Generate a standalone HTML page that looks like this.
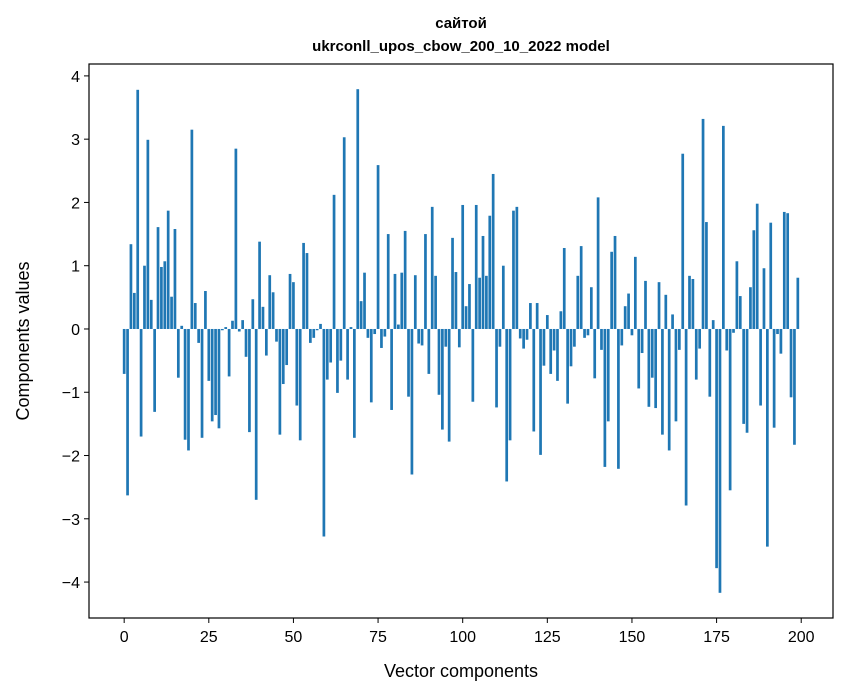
<!DOCTYPE html>
<html><head><meta charset="utf-8"><style>
body{margin:0;background:#fff;}
svg{display:block;font-family:"Liberation Sans","DejaVu Sans",sans-serif;}
</style></head>
<body>
<svg id="chart" width="847" height="696">
<text x="461" y="28" text-anchor="middle" font-size="15" font-weight="bold">сайтой</text>
<text x="461" y="51" text-anchor="middle" font-size="15" font-weight="bold">ukrconll_upos_cbow_200_10_2022 model</text>
<text x="461" y="677" text-anchor="middle" font-size="18">Vector components</text>
<text x="29" y="341" text-anchor="middle" font-size="18" transform="rotate(-90 29 341)">Components values</text>
<g id="bars"></g>
<g id="xticks"></g>
<g id="yticks"></g>
<rect x="89" y="64" width="744" height="554" fill="none" stroke="#000" stroke-width="1.2"/>
</svg>
<script>
const values = [-0.71,-2.63,1.34,0.57,3.78,-1.70,1.00,2.99,0.46,-1.31,
1.61,0.98,1.07,1.87,0.51,1.58,-0.77,0.05,-1.75,-1.92,
3.15,0.41,-0.22,-1.72,0.60,-0.82,-1.46,-1.36,-1.57,-0.02,
0.03,-0.75,0.13,2.85,-0.04,0.14,-0.44,-1.63,0.47,-2.70,
1.38,0.35,-0.42,0.85,0.58,-0.20,-1.67,-0.87,-0.57,0.87,
0.74,-1.21,-1.76,1.36,1.20,-0.22,-0.14,-0.02,0.08,-3.28,
-0.80,-0.53,2.12,-1.01,-0.50,3.03,-0.80,0.03,-1.72,3.79,
0.44,0.89,-0.14,-1.16,-0.08,2.59,-0.30,-0.12,1.50,-1.28,
0.87,0.07,0.89,1.55,-1.07,-2.30,0.85,-0.23,-0.26,1.50,
-0.71,1.93,0.84,-1.04,-1.59,-0.28,-1.78,1.44,0.90,-0.29,
1.96,0.36,0.71,-1.15,1.96,0.81,1.47,0.84,1.79,2.45,
-1.24,-0.28,1.00,-2.41,-1.76,1.87,1.93,-0.15,-0.31,-0.17,
0.41,-1.62,0.41,-1.99,-0.58,0.22,-0.71,-0.34,-0.82,0.28,
1.28,-1.18,-0.59,-0.28,0.84,1.31,-0.14,-0.10,0.66,-0.78,
2.08,-0.33,-2.18,-1.46,1.22,1.47,-2.21,-0.26,0.36,0.56,
-0.10,1.14,-0.94,-0.38,0.76,-1.23,-0.77,-1.25,0.74,-1.67,
0.54,-1.92,0.23,-1.46,-0.33,2.77,-2.79,0.84,0.79,-0.80,
-0.31,3.32,1.69,-1.07,0.14,-3.78,-4.17,3.21,-0.34,-2.55,
-0.06,1.07,0.52,-1.50,-1.64,0.66,1.56,1.98,-1.21,0.96,
-3.44,1.68,-1.56,-0.08,-0.39,1.85,1.83,-1.08,-1.83,0.81];
const xTicks = [0,25,50,75,100,125,150,175,200];
const yTicks = [-4,-3,-2,-1,0,1,2,3,4];
const NS = "http://www.w3.org/2000/svg";
const X0=89, X1=833, Y0=64, Y1=618;
const n = values.length;
const xmin=-0.4-0.05*(n-1+0.8), xmax=(n-1)+0.4+0.05*(n-1+0.8);
const vmax=Math.max(0,...values), vmin=Math.min(0,...values);
const pad=(vmax-vmin)*0.05;
const ymin=vmin-pad, ymax=vmax+pad;
const sx=v=>X0+(v-xmin)/(xmax-xmin)*(X1-X0);
const sy=v=>Y1-(v-ymin)/(ymax-ymin)*(Y1-Y0);
const bars=document.getElementById('bars');
values.forEach((v,i)=>{
  const r=document.createElementNS(NS,'rect');
  const xa=sx(i-0.4), xb=sx(i+0.4);
  const ya=sy(Math.max(v,0)), yb=sy(Math.min(v,0));
  r.setAttribute('x',xa); r.setAttribute('width',xb-xa);
  r.setAttribute('y',ya); r.setAttribute('height',Math.max(yb-ya,0.5));
  r.setAttribute('fill','#1f77b4');
  
  
  bars.appendChild(r);
});
const xg=document.getElementById('xticks');
xTicks.forEach(t=>{
  const x=sx(t);
  const l=document.createElementNS(NS,'line');
  l.setAttribute('x1',x);l.setAttribute('x2',x);l.setAttribute('y1',Y1);l.setAttribute('y2',Y1+5);
  l.setAttribute('stroke','#000');
  
  
  xg.appendChild(l);
  const tx=document.createElementNS(NS,'text');
  tx.setAttribute('x',x);tx.setAttribute('y',Y1+24);tx.setAttribute('text-anchor','middle');tx.setAttribute('font-size','16');
  tx.textContent=t;
  
  
  xg.appendChild(tx);
});
const yg=document.getElementById('yticks');
yTicks.forEach(t=>{
  const y=sy(t);
  const l=document.createElementNS(NS,'line');
  l.setAttribute('x1',X0-5);l.setAttribute('x2',X0);l.setAttribute('y1',y);l.setAttribute('y2',y);
  l.setAttribute('stroke','#000');
  
  
  yg.appendChild(l);
  const tx=document.createElementNS(NS,'text');
  tx.setAttribute('x',X0-9);tx.setAttribute('y',y+6);tx.setAttribute('text-anchor','end');tx.setAttribute('font-size','16');
  tx.textContent=(t<0?'\u2212'+(-t):t);
  
  
  yg.appendChild(tx);
});
</script>
</body></html>
